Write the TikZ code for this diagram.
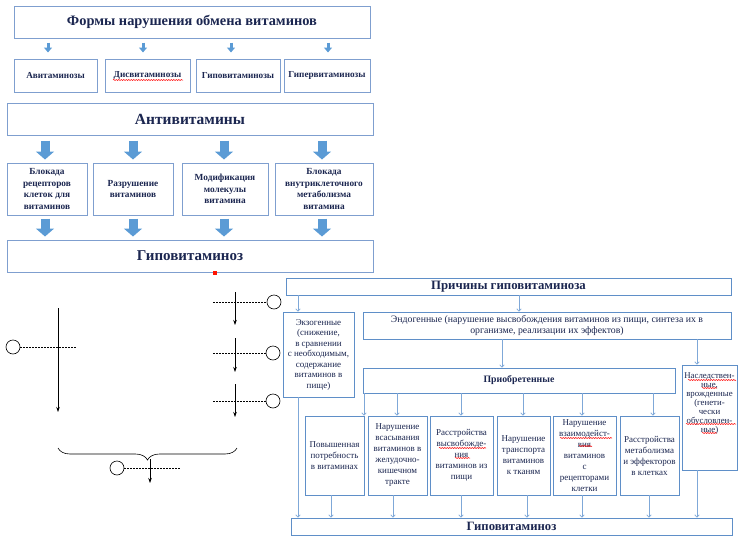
\documentclass[tikz,border=0pt]{standalone}
\usepackage{fontspec}
\setmainfont{Liberation Serif}
\usetikzlibrary{arrows.meta,decorations.pathreplacing,decorations.pathmorphing}
\definecolor{bt}{HTML}{7F9FCF}
\definecolor{br}{HTML}{5F8FC8}
\definecolor{arrf}{HTML}{5B9BD5}
\definecolor{rl}{HTML}{7FA8D8}
\definecolor{tc}{HTML}{1B2650}
\newcommand\bx[7][]{\node[#1, minimum width={(#5-#3)*1pt}, minimum height={(#6-#4)*1pt}] (#2) at ({(#3+#5)/2},{(#4+#6)/2}) {#7};}
\newcommand\fsz[2]{\fontsize{#1}{#2}\selectfont}
\begin{document}
\begin{tikzpicture}[x=1pt,y=-1pt,
  tbox/.style={draw=bt, line width=1pt, fill=white, text=tc, align=center, inner sep=1pt},
  rbox/.style={draw=br, line width=0.9pt, fill=white, text=tc, align=center, inner sep=1pt},
  fatarr/.style={draw=arrf, line width=9pt, -{Triangle[width=18pt,length=8pt]}},
  thinarr/.style={draw=arrf, line width=3pt, -{Triangle[width=8pt,length=5pt]}},
  rarr/.style={draw=rl, line width=0.8pt, -{To[length=3pt,width=5pt]}},
  blk/.style={draw=black, line width=0.6pt, -{Stealth[length=5pt,width=3.5pt]}},
  dline/.style={draw=black, line width=0.5pt, dash pattern=on 2pt off 1pt},
  circ/.style={circle, draw=black, line width=0.6pt, minimum size=14pt, inner sep=0pt},
  squig/.style={draw=red, line width=0.5pt, decorate, decoration={snake, amplitude=0.6pt, segment length=2.5pt}}
]
\useasboundingbox (0,0) rectangle (740,536);

% ---------- top section ----------
\bx[tbox, font=\bfseries\fsz{14.4}{16}]{title}{14}{6}{370}{38}{Формы нарушения обмена витаминов}
\bx[tbox, font=\bfseries\fsz{9.2}{11}]{av}{14}{59}{97}{92}{Авитаминозы}
\bx[tbox, font=\bfseries\fsz{9.2}{11}]{dis}{105}{59}{190}{92}{Дисвитаминозы}
\bx[tbox, font=\bfseries\fsz{9.2}{11}]{hypo1}{196}{59}{280}{92}{Гиповитаминозы}
\bx[tbox, font=\bfseries\fsz{9.2}{11}]{hyper}{284}{59}{370}{92}{Гипервитаминозы}
\draw[squig] (113,80) -- (183,80);

\coordinate (ta1) at (48,0);
\coordinate (ta2) at (143,0);
\coordinate (ta3) at (231,0);
\coordinate (ta4) at (328,0);
\draw[thinarr, shorten <=4pt, shorten >=6pt] (title.south -| ta1) -- (av.north -| ta1);
\draw[thinarr, shorten <=4pt, shorten >=6pt] (title.south -| ta2) -- (dis.north -| ta2);
\draw[thinarr, shorten <=4pt, shorten >=6pt] (title.south -| ta3) -- (hypo1.north -| ta3);
\draw[thinarr, shorten <=4pt, shorten >=6pt] (title.south -| ta4) -- (hyper.north -| ta4);

\bx[tbox, font=\bfseries\fsz{15.5}{17}]{anti}{7}{103}{373}{135}{Антивитамины}
\bx[tbox, font=\bfseries\fsz{9.3}{11.5}]{ra}{7}{163}{87}{215}{Блокада\\рецепторов\\клеток для\\витаминов}
\bx[tbox, font=\bfseries\fsz{9.3}{11.5}]{rb}{93}{163}{173}{215}{Разрушение\\витаминов}
\bx[tbox, font=\bfseries\fsz{9.3}{11.5}]{rc}{182}{163}{268}{215}{Модификация\\молекулы\\витамина}
\bx[tbox, font=\bfseries\fsz{9.3}{11.5}]{rd}{275}{163}{373}{215}{Блокада\\внутриклеточного\\метаболизма\\витамина}
\bx[tbox, font=\bfseries\fsz{15}{17}]{hypo2}{7}{240}{373}{272}{Гиповитаминоз}
\fill[red!85!orange] (213,271) rectangle (217,275);

\coordinate (fa1) at (45,0);
\coordinate (fa2) at (133,0);
\coordinate (fa3) at (224,0);
\coordinate (fa4) at (322,0);
\draw[fatarr, shorten <=5pt, shorten >=3pt] (anti.south -| fa1) -- (ra.north -| fa1);
\draw[fatarr, shorten <=5pt, shorten >=3pt] (anti.south -| fa2) -- (rb.north -| fa2);
\draw[fatarr, shorten <=5pt, shorten >=3pt] (anti.south -| fa3) -- (rc.north -| fa3);
\draw[fatarr, shorten <=5pt, shorten >=3pt] (anti.south -| fa4) -- (rd.north -| fa4);
\draw[fatarr, shorten <=3pt, shorten >=3pt] (ra.south -| fa1) -- (hypo2.north -| fa1);
\draw[fatarr, shorten <=3pt, shorten >=3pt] (rb.south -| fa2) -- (hypo2.north -| fa2);
\draw[fatarr, shorten <=3pt, shorten >=3pt] (rc.south -| fa3) -- (hypo2.north -| fa3);
\draw[fatarr, shorten <=3pt, shorten >=3pt] (rd.south -| fa4) -- (hypo2.north -| fa4);

% ---------- left-bottom scheme ----------
\node[circ] (lc) at (13,347) {};
\coordinate (lce) at (76,347);
\draw[dline] (lc.east) -- (lce);
\coordinate (la1) at (58,308);
\coordinate (la2) at (58,412);
\draw[blk] (la1) -- (la2);

\node[circ] (rc1) at (274,302) {};
\coordinate (rd1) at (213,302);
\draw[dline] (rd1) -- (rc1.west);
\coordinate (ra1s) at (235,292);
\coordinate (ra1e) at (235,325);
\draw[blk] (ra1s) -- (ra1e);

\node[circ] (rc2) at (273,353) {};
\coordinate (rd2) at (213,353);
\draw[dline] (rd2) -- (rc2.west);
\coordinate (ra2s) at (235,338);
\coordinate (ra2e) at (235,372);
\draw[blk] (ra2s) -- (ra2e);

\node[circ] (rc3) at (273,401) {};
\coordinate (rd3) at (213,401);
\draw[dline] (rd3) -- (rc3.west);
\coordinate (ra3s) at (235,384);
\coordinate (ra3e) at (235,417);
\draw[blk] (ra3s) -- (ra3e);

\coordinate (br1) at (58,448);
\coordinate (br2) at (237,448);
\draw[line width=0.6pt, decorate, decoration={brace, amplitude=12pt, mirror}] (br1) -- (br2);
\node[circ] (bc) at (117,468) {};
\coordinate (bce) at (180,468);
\draw[dline] (bc.east) -- (bce);
\coordinate (ba1) at (150,459);
\coordinate (ba2) at (150,483);
\draw[blk] (ba1) -- (ba2);

% ---------- right section ----------
\bx[rbox, font=\bfseries\fsz{12.8}{14}]{prich}{286}{278}{731}{295}{Причины гиповитаминоза}
\bx[rbox, font=\fsz{9}{10.5}]{exo}{283}{312}{354}{397}{Экзогенные\\(снижение,\\в сравнении\\с необходимым,\\содержание\\витаминов в\\пище)}
\bx[rbox, font=\fsz{9.8}{10.5}]{endo}{363}{312}{731}{339}{Эндогенные (нарушение высвобождения витаминов из пищи, синтеза их в\\организме, реализации их эффектов)}
\bx[rbox, font=\bfseries\fsz{9.8}{11}]{acq}{363}{368}{675}{393}{Приобретенные}
\bx[rbox]{hered}{682}{365}{737}{470}{}
\node[text=tc, align=center, inner sep=0pt, font=\fsz{8.8}{9}] (heredt) at ([yshift=14pt]hered.center) {Наследствен-\\ные,\\врожденные\\(генети-\\чески\\обусловлен-\\ные)};

\bx[rbox, font=\fsz{9}{11}]{b1}{305}{416}{364}{495}{Повышенная\\потребность\\в витаминах}
\bx[rbox, font=\fsz{9}{11}]{b2}{368}{416}{427}{495}{Нарушение\\всасывания\\витаминов в\\желудочно-\\кишечном\\тракте}
\bx[rbox, font=\fsz{9}{11}]{b3}{430}{416}{493}{495}{Расстройства\\высвобожде-\\ния\\витаминов из\\пищи}
\bx[rbox, font=\fsz{9}{11}]{b4}{497}{416}{550}{495}{Нарушение\\транспорта\\витаминов\\к тканям}
\bx[rbox, font=\fsz{9}{11}]{b5}{553}{416}{616}{495}{Нарушение\\взаимодейст-\\вия\\витаминов\\с\\рецепторами\\клетки}
\bx[rbox, font=\fsz{9}{11}]{b6}{620}{416}{679}{495}{Расстройства\\метаболизма\\и эффекторов\\в клетках}
\bx[rbox, font=\bfseries\fsz{12.7}{14}]{hypo3}{291}{518}{732}{535}{Гиповитаминоз}

\draw[squig] (439,448) -- (486,448);
\draw[squig] (455,458) -- (470,458);
\draw[squig] (560,438) -- (612,438);
\draw[squig] (579,446) -- (592,446);
\draw[squig] (688,380) -- (736,380);
\draw[squig] (702,388) -- (717,388);
\draw[squig] (686,424) -- (736,424);
\draw[squig] (702,433) -- (717,433);

\coordinate (x1) at (298,0);
\coordinate (x2) at (519,0);
\coordinate (x3) at (502,0);
\coordinate (x4) at (697,0);
\draw[rarr] (prich.south -| x1) -- (exo.north -| x1);
\draw[rarr] (prich.south -| x2) -- (endo.north -| x2);
\draw[rarr] (endo.south -| x3) -- (acq.north -| x3);
\draw[rarr] (endo.south -| x4) -- (hered.north -| x4);

\coordinate (y1) at (364,0);
\coordinate (y2) at (397,0);
\coordinate (y3) at (461,0);
\coordinate (y4) at (523,0);
\coordinate (y5) at (582,0);
\coordinate (y6) at (653,0);
\draw[rarr] (acq.south -| y1) -- (b1.north -| y1);
\draw[rarr] (acq.south -| y2) -- (b2.north -| y2);
\draw[rarr] (acq.south -| y3) -- (b3.north -| y3);
\draw[rarr] (acq.south -| y4) -- (b4.north -| y4);
\draw[rarr] (acq.south -| y5) -- (b5.north -| y5);
\draw[rarr] (acq.south -| y6) -- (b6.north -| y6);

\coordinate (z1) at (331,0);
\coordinate (z2) at (393,0);
\coordinate (z3) at (461,0);
\coordinate (z4) at (527,0);
\coordinate (z5) at (582,0);
\coordinate (z6) at (649,0);
\draw[rarr] (exo.south -| x1) -- (hypo3.north -| x1);
\draw[rarr] (b1.south -| z1) -- (hypo3.north -| z1);
\draw[rarr] (b2.south -| z2) -- (hypo3.north -| z2);
\draw[rarr] (b3.south -| z3) -- (hypo3.north -| z3);
\draw[rarr] (b4.south -| z4) -- (hypo3.north -| z4);
\draw[rarr] (b5.south -| z5) -- (hypo3.north -| z5);
\draw[rarr] (b6.south -| z6) -- (hypo3.north -| z6);
\draw[rarr] (hered.south -| x4) -- (hypo3.north -| x4);
\end{tikzpicture}
\end{document}
